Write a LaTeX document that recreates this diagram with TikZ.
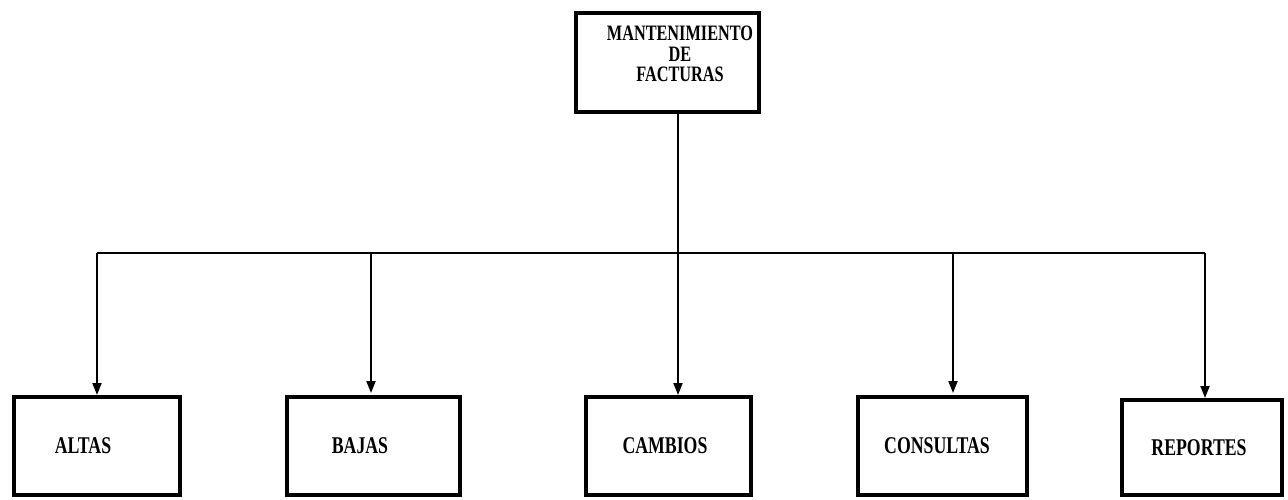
\documentclass[tikz,border=0pt]{standalone}
\usepackage{fontspec}
\setmainfont{Liberation Serif}
\newfontfamily\lblfont[FakeStretch=0.74]{Liberation Serif}
\usetikzlibrary{arrows.meta}
\begin{document}
\begin{tikzpicture}[x=1pt,y=-1pt,
  box/.style={draw, line width=4pt, inner sep=0pt, minimum height=98pt,
    font=\lblfont\bfseries\fontsize{24}{25}\selectfont, align=center},
  conn/.style={line width=1.8pt},
  arr/.style={line width=1.8pt, -{Triangle[length=12pt,width=9pt]}}]
\useasboundingbox (0,0) rectangle (1288,499);
\node[box, minimum width=183pt, minimum height=99pt] (top) at (667,62)
  {\raisebox{5pt}[\height][\depth]{\hspace*{26pt}\fontsize{22}{20}\selectfont\begin{tabular}{@{}c@{}}MANTENIMIENTO\\DE\\FACTURAS\end{tabular}}};
\node[box, minimum width=166pt] (altas) at (97,446) {ALTAS\hspace*{28pt}};
\node[box, minimum width=173pt] (bajas) at (373,446) {BAJAS\hspace*{26pt}};
\node[box, minimum width=165pt] (cambios) at (668,446) {CAMBIOS\hspace*{6pt}};
\node[box, minimum width=169pt] (consultas) at (942,446) {CONSULTAS\hspace*{10pt}};
\node[box, minimum width=160pt, minimum height=95pt] (reportes) at (1202,447.5) {REPORTES\hspace*{6pt}};
\coordinate (hub) at (678,253);
\coordinate (hl) at (97,253);
\coordinate (hr) at (1205,253);
\draw[conn] (top.south -| hub) -- (hub);
\draw[conn] (hl) -- (hr);
\draw[arr] (hl) -- (altas.north);
\draw[arr] (371,253) -- (371,393);
\draw[arr] (hub) -- (hub |- cambios.north);
\draw[arr] (953,253) -- (953,393);
\draw[arr] (hr) -- (hr |- reportes.north);
\end{tikzpicture}
\end{document}
